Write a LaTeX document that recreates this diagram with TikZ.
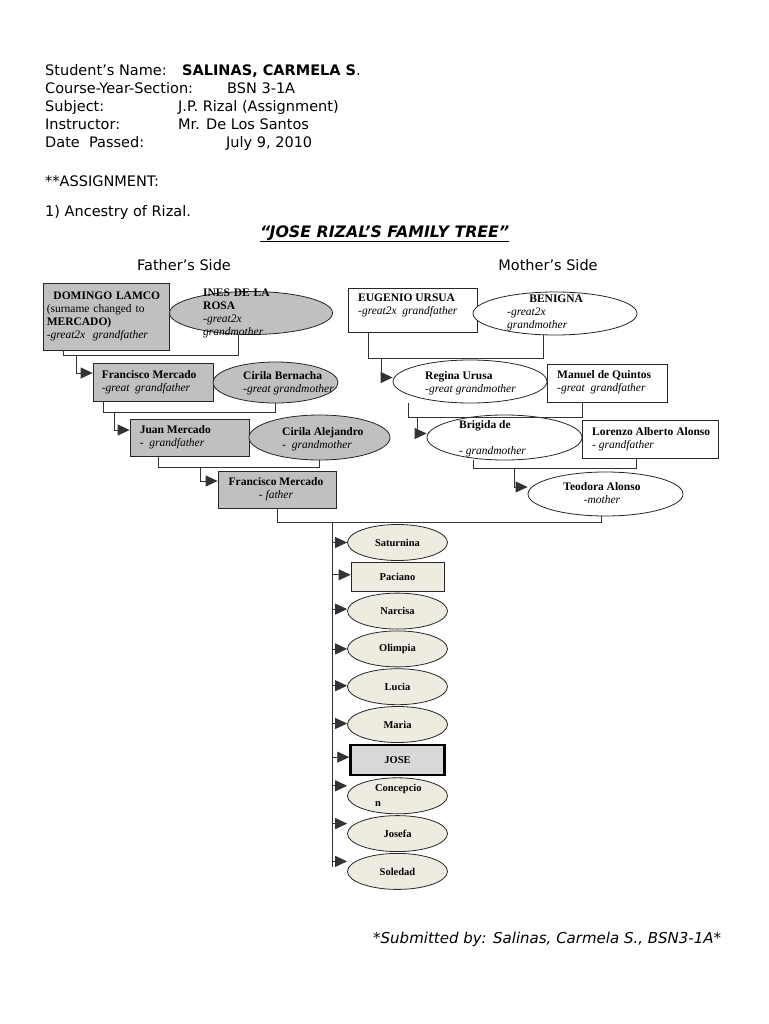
\documentclass[tikz,border=0pt]{standalone}
\usepackage{fontspec}
\setmainfont{Liberation Serif}
\newfontfamily\hdfont{DejaVu Sans}
\usetikzlibrary{arrows.meta,positioning,calc,shapes.geometric}
\definecolor{pgray}{HTML}{C0C0C0}
\definecolor{kidfill}{HTML}{EEECE1}
\definecolor{josefill}{HTML}{D9D9D9}
\definecolor{linkc}{HTML}{333333}

\begin{document}
\begin{tikzpicture}[x=1pt,y=-1pt,font=\fontsize{11.5}{13}\selectfont,
      pbox/.style={draw=black!85,line width=0.8pt,fill=pgray,inner sep=0pt},
      mbox/.style={pbox,fill=white},
      oval/.style={ellipse,draw=black!85,line width=0.8pt,fill=pgray,inner sep=0pt},
      moval/.style={oval,fill=white},
      txt/.style={inner sep=0pt,align=left,anchor=west},
      kid/.style={ellipse,draw=black!85,line width=0.8pt,fill=kidfill,minimum width=100pt,
        minimum height=36pt,inner sep=0pt,font=\fontsize{10.5}{15}\selectfont\bfseries},
      kidbox/.style={kid,rectangle,minimum width=93pt,minimum height=29pt},
      hd/.style={font=\hdfont\fontsize{14.5}{18}\selectfont,inner sep=0pt,anchor=base west},
      link/.style={draw=linkc,line width=0.8pt},
      arr/.style={link,-{Triangle[length=12pt,width=11pt]}}]
    \fill[white] (0,0) rectangle (768,1024);
    \useasboundingbox (0,0) rectangle (768,1024);
    % header
    \node[hd] (name-l) at (45,76) {Student’s Name:};
    \node[hd] (name-v) at (182,76) {\textbf{SALINAS, CARMELA S}.};
    \node[hd] (crs-l) at (45,94) {Course-Year-Section:};
    \node[hd] (crs-v) at (227,94) {BSN 3-1A};
    \node[hd] (sub-l) at (45,112) {Subject:};
    \node[hd] (sub-v) at (178,112) {J.P. Rizal (Assignment)};
    \node[hd] (ins-l) at (45,130) {Instructor:};
    \node[hd] (ins-v) at (178,130) {Mr. De Los Santos};
    \node[hd] (date-l) at (45,148) {Date\ \ Passed:};
    \node[hd] (date-v) at (226,148) {July 9, 2010};
    \node[hd] (asg) at (45,187) {**ASSIGNMENT:};
    \node[hd] (anc) at (45,217) {1) Ancestry of Rizal.};
    \node[hd,font=\hdfont\fontsize{15.8}{18}\selectfont] (title) at (260,237)
      {\bfseries\itshape\underline{“JOSE RIZAL’S FAMILY TREE”}};
    \node[hd,anchor=base] (fside) at (184,270) {Father’s Side};
    \node[hd,anchor=base] (mside) at (548,270) {Mother’s Side};
    % father's side
    \node[pbox,minimum width=126pt,minimum height=67pt] (dom) at (106,316.5) {};
    \node[oval,minimum width=163pt,minimum height=43pt] (ines) at (251,313) {};
    \node[pbox,minimum width=120pt,minimum height=38pt] (fgg) at (153,382) {};
    \node[oval,minimum width=125pt,minimum height=41pt] (cb) at (275.5,382.5) {};
    \node[pbox,minimum width=119pt,minimum height=37pt] (jm) at (189.5,437.5) {};
    \node[oval,minimum width=141pt,minimum height=45pt] (ca) at (319.5,437.5) {};
    \node[pbox,minimum width=118pt,minimum height=37pt] (fm) at (277,489.5) {};
    \node[txt,text width=120pt] (dom-t) at ([xshift=4pt]dom.west)
      {\makebox[\linewidth]{\textbf{DOMINGO LAMCO}}\\ (surname changed to\\ \textbf{MERCADO)}\\ \textit{-great2x\ \ grandfather}};
    \node[txt,text width=80pt] (ines-t) at (203,313)
      {\textbf{INES DE LA}\\ \textbf{ROSA}\\ \textit{-great2x}\\ \textit{grandmother}};
    \node[txt] (fgg-t) at ([xshift=9pt]fgg.west) {\textbf{Francisco Mercado}\\ \textit{-great\ \ grandfather}};
    \node[txt] (cb-t) at (243,383) {\textbf{Cirila Bernacha}\\ \textit{-great grandmother}};
    \node[txt] (jm-t) at ([xshift=10pt]jm.west) {\textbf{Juan Mercado}\\ \textit{-\ \ grandfather}};
    \node[txt] (ca-t) at (282,439) {\textbf{Cirila Alejandro}\\ \textit{-\ \ grandmother}};
    \node[inner sep=0pt,align=center] (fm-t) at ([xshift=-1pt]fm.center) {\textbf{Francisco Mercado}\\ \textit{- father}};
    % mother's side
    \node[mbox,minimum width=129pt,minimum height=44pt] (eu) at (412.5,310) {};
    \node[moval,minimum width=164pt,minimum height=43pt] (ben) at (555,313.5) {};
    \node[moval,minimum width=154pt,minimum height=43pt] (reg) at (470,381.5) {};
    \node[mbox,minimum width=120pt,minimum height=38pt] (man) at (607,383) {};
    \node[moval,minimum width=155pt,minimum height=45pt] (brig) at (504.5,437.5) {};
    \node[mbox,minimum width=136pt,minimum height=38pt] (lor) at (650,439) {};
    \node[moval,minimum width=155pt,minimum height=44pt] (teo) at (605.5,494) {};
    \node[txt] (eu-t) at (358,305) {\textbf{EUGENIO URSUA}\\ \textit{-great2x\ \ grandfather}};
    \node[txt,text width=98pt] (ben-t) at (507,313)
      {\makebox[\linewidth]{\textbf{BENIGNA}}\\ \textit{-great2x}\\ \textit{grandmother}};
    \node[txt] (reg-t) at (425,383) {\textbf{Regina Urusa}\\ \textit{-great grandmother}};
    \node[txt] (man-t) at (557,382.5) {\textbf{Manuel de Quintos}\\ \textit{-great\ \ grandfather}};
    \node[txt] (brig-t) at (459,439) {\textbf{Brigida de}\\ \mbox{}\\ \textit{- grandmother}};
    \node[txt] (lor-t) at (592,439.5) {\textbf{Lorenzo Alberto Alonso}\\ \textit{- grandfather}};
    \node[inner sep=0pt,align=center] (teo-t) at (602,493) {\textbf{Teodora Alonso}\\ \textit{-mother}};
    % couples and descent
    \coordinate (jd) at (63,355); \coordinate (ad) at (76,355);
    \draw[link] (dom.south -| jd) -- (jd) -| ([xshift=-13pt]ines.south);
    \draw[arr] (ad) |- ([yshift=9pt]fgg.west);
    \coordinate (jf) at (103,412); \coordinate (af) at (114,412);
    \draw[link] (fgg.south -| jf) -- (jf) -| (cb.south);
    \draw[arr] (af) |- ([yshift=7.5pt]jm.west);
    \coordinate (jj) at (158,467); \coordinate (aj) at (200,467);
    \draw[link] (jm.south -| jj) -- (jj) -| (ca.south);
    \draw[arr] (aj) |- ([yshift=8.5pt]fm.west);
    \coordinate (je) at (368,358); \coordinate (ae) at (381,358);
    \draw[link] (eu.south -| je) -- (je) -| ([xshift=-12pt]ben.south);
    \draw[arr] (ae) |- ([yshift=4pt]reg.west);
    \coordinate (jr) at (408,417); \coordinate (ar) at (417,417);
    \draw[link] (reg.south -| jr) -- (jr) -| ([xshift=-25pt]man.south);
    \draw[arr] (ar) |- ([yshift=4pt]brig.west);
    \coordinate (jb) at (473,468); \coordinate (ab) at (514,468);
    \draw[link] (brig.south -| jb) -- (jb) -| ([xshift=-14pt]lor.south);
    \draw[arr] (ab) |- ([yshift=7pt]teo.west);
    \coordinate (jp) at (277,522);
    \draw[link] (fm.south) -- (jp) -| ([xshift=-4pt]teo.south);
    % children
    \node[kid] (sat) at (397.5,542.5) {Saturnina};
    \node[kidbox,below=1pt of sat] (pac) {Paciano};
    \node[kid,below=1pt of pac] (nar) {Narcisa};
    \node[kid,below=1pt of nar] (oli) {Olimpia};
    \node[kid,below=1pt of oli] (luc) {Lucia};
    \node[kid,below=1pt of luc] (mar) {Maria};
    \node[kidbox,fill=josefill,draw=black,line width=2.5pt,minimum width=94pt,minimum height=30pt,
      below=1pt of mar] (jose) {JOSE};
    \node[kid,align=left,text width=45pt,below=1pt of jose] (con) {Concepcio\\n};
    \node[kid,below=1pt of con] (jos) {Josefa};
    \node[kid,below=1pt of jos] (sol) {Soledad};
    \coordinate (ctop) at (332,522); \coordinate (cbot) at (332,867);
    \draw[link] (ctop) -- (cbot);
    \foreach \k/\dy in {sat/0,pac/2,nar/2,oli/0,luc/1,mar/1,jose/3,con/10,jos/10,sol/10}{
      \coordinate (\k-in) at ([yshift=\dy pt]\k.west);
      \draw[arr] (ctop |- \k-in) -- (\k-in);}
    % footer
    \node[hd,font=\hdfont\fontsize{15}{18}\selectfont] (sent) at (373,943)
      {\itshape *Submitted by: Salinas, Carmela S., BSN3-1A*};
  \end{tikzpicture}
\end{document}
